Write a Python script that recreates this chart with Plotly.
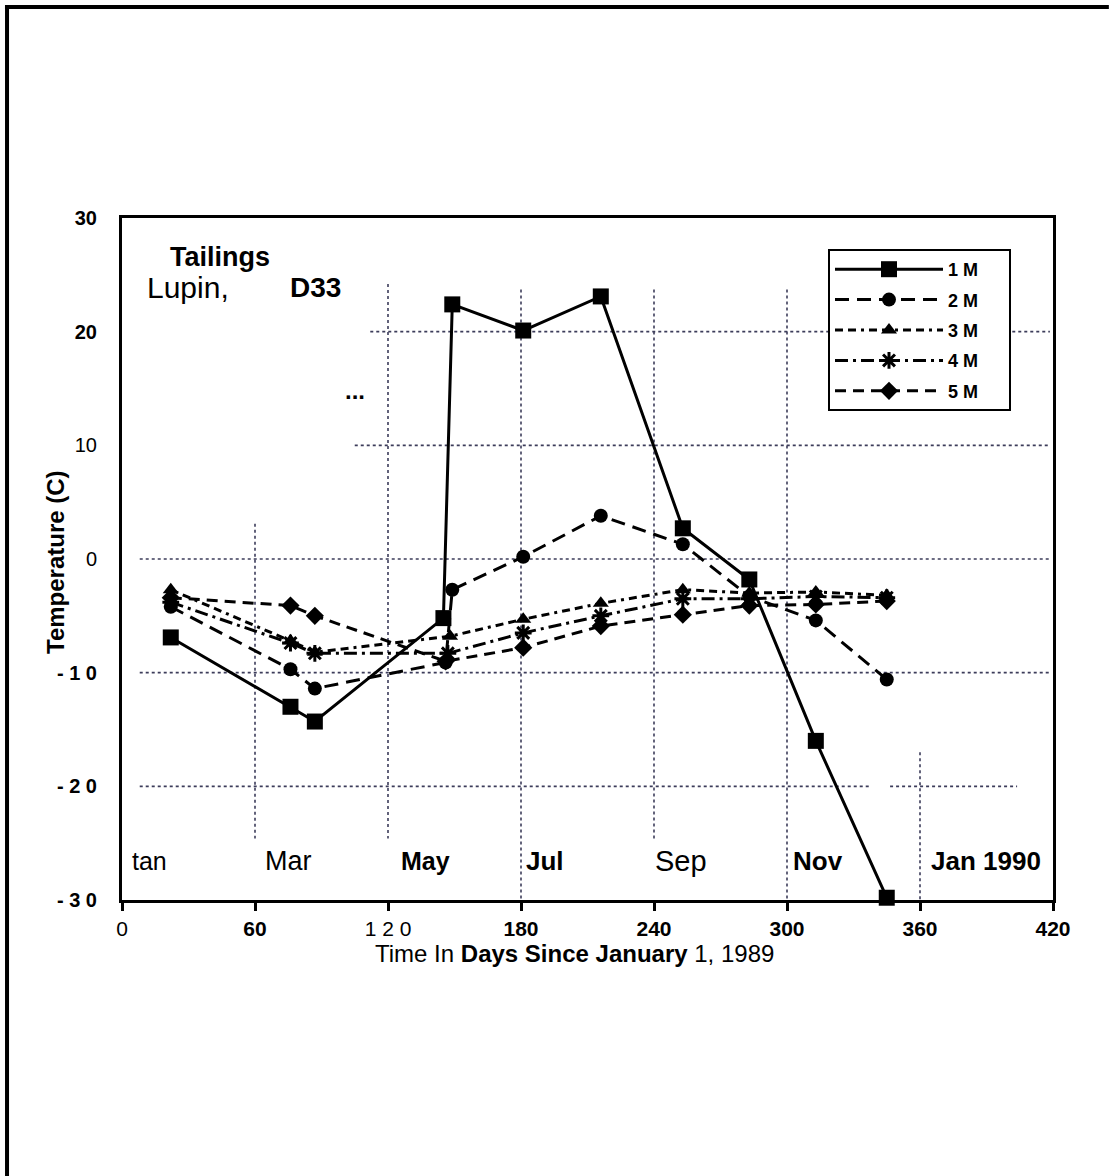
import plotly.graph_objects as go

# ---- data ----
series_names = ["1 M", "2 M", "3 M", "4 M", "5 M"]
days_1m = [22, 76, 87, 145, 149, 181, 216, 253, 283, 313, 345]
temp_1m = [-6.9, -13.0, -14.3, -5.2, 22.4, 20.1, 23.1, 2.7, -1.8, -16.0, -29.8]
days_2m = [22, 76, 87, 146, 149, 181, 216, 253, 283, 313, 345]
temp_2m = [-4.2, -9.7, -11.4, -9.1, -2.7, 0.2, 3.8, 1.3, -3.3, -5.4, -10.6]
days_3m = [22, 76, 87, 148, 181, 216, 253, 283, 313, 345]
temp_3m = [-2.7, -7.2, -8.2, -6.8, -5.3, -3.9, -2.7, -3.0, -2.9, -3.2]
days_4m = [22, 76, 87, 147, 181, 216, 253, 283, 313, 345]
temp_4m = [-3.8, -7.4, -8.3, -8.3, -6.5, -5.0, -3.5, -3.5, -3.3, -3.4]
days_5m = [22, 76, 87, 146, 181, 216, 253, 283, 313, 345]
temp_5m = [-3.4, -4.1, -5.0, -9.0, -7.8, -5.9, -4.9, -4.1, -4.0, -3.7]

x_tickvals = [0, 60, 120, 180, 240, 300, 360, 420]
x_ticktext = ["0", "<b>60</b>", "1 2 0", "<b>180</b>", "<b>240</b>", "<b>300</b>", "<b>360</b>", "<b>420</b>"]
y_tickvals = [30, 20, 10, 0, -10, -20, -30]
y_ticktext = ["<b>30</b>", "<b>20</b>", "10", "0", "<b>- 1 0</b>", "<b>- 2 0</b>", "<b>- 3 0</b>"]

month_labels = ["tan", "Mar", "<b>May</b>", "<b>Jul</b>", "Sep", "<b>Nov</b>", "<b>Jan 1990</b>"]
month_days = [12.6, 74.9, 136.7, 190.8, 252.2, 314, 389.8]
month_sizes = [25, 27, 25, 26, 29, 26, 26]

all_days = [days_1m, days_2m, days_3m, days_4m, days_5m]
all_temps = [temp_1m, temp_2m, temp_3m, temp_4m, temp_5m]

# ---- styles ----
symbols = ["square", "circle", "triangle-up", "asterisk-open", "diamond"]
sizes = [16, 14, 14, 14, 14]
dashes = ["solid", "14px,8px", "8px,5px,8px,5px,3px,5px", "13px,5px,3px,5px", "11px,7px"]

fig = go.Figure()
for i in range(5):
    fig.add_trace(go.Scatter(
        x=all_days[i], y=all_temps[i],
        name="<b>" + series_names[i] + "</b>&nbsp;&nbsp;&nbsp;&nbsp;&nbsp;",
        mode="lines+markers",
        line=dict(color="black", width=3, dash=dashes[i]),
        marker=dict(symbol=symbols[i], size=sizes[i], color="black",
                    line=dict(color="black", width=3 if i == 3 else 0)),
        cliponaxis=False, legendgroup=str(i),
    ))

# dotted grid segments (partial, as in the scanned reference)
grid_h = [(20, 112, 418.6), (10, 105, 418.6), (0, 8, 418.6), (-10, 8, 418.6), (-20, 8, 337.5), (-20, 346.5, 403.8)]
grid_v = [(60, 3.1, -24.6), (120, 24.2, -24.6), (180, 23.7, -30), (240, 23.7, -24.6), (300, 23.7, -30), (360, -17.0, -30)]
shapes = []
for yv, x0, x1 in grid_h:
    shapes.append(dict(type="line", xref="x", yref="y", x0=x0, x1=x1, y0=yv, y1=yv,
                       line=dict(color="#3c3c5a", width=1.6, dash="dot"), layer="below"))
for xv, y0, y1 in grid_v:
    shapes.append(dict(type="line", xref="x", yref="y", x0=xv, x1=xv, y0=y0, y1=y1,
                       line=dict(color="#3c3c5a", width=1.6, dash="dot"), layer="below"))
# outer page frame (left and top)
shapes.append(dict(type="line", xref="paper", yref="paper", x0=-0.1235, x1=-0.1235, y0=1.3094, y1=-0.41,
                   line=dict(color="black", width=4)))
shapes.append(dict(type="line", xref="paper", yref="paper", x0=-0.1257, x1=1.06, y0=1.3094, y1=1.3094,
                   line=dict(color="black", width=4)))

annotations = []
for lab, d, s in zip(month_labels, month_days, month_sizes):
    annotations.append(dict(x=d, y=-26.6, xref="x", yref="y", text=lab, showarrow=False,
                            font=dict(family="Liberation Sans, Arial", size=s, color="black"),
                            xanchor="center", yanchor="middle"))
annotations += [
    dict(x=(168 - 122) / 931, y=(900 - 257) / 682, xref="paper", yref="paper", text="<b>Tailings</b>",
         showarrow=False, xanchor="left", yanchor="middle", font=dict(family="Liberation Sans, Arial", size=27, color="black")),
    dict(x=(145 - 122) / 931, y=(900 - 287) / 682, xref="paper", yref="paper", text="Lupin,",
         showarrow=False, xanchor="left", yanchor="middle", font=dict(family="Liberation Sans, Arial", size=30, color="black")),
    dict(x=(288 - 122) / 931, y=(900 - 287) / 682, xref="paper", yref="paper", text="<b>D33</b>",
         showarrow=False, xanchor="left", yanchor="middle", font=dict(family="Liberation Sans, Arial", size=28, color="black")),
    dict(x=(355 - 122) / 931, y=(900 - 390) / 682, xref="paper", yref="paper", text="<b>...</b>",
         showarrow=False, xanchor="center", yanchor="middle", font=dict(family="Liberation Sans, Arial", size=24, color="black")),
    dict(x=(574 - 122) / 931, y=(900 - 953) / 682, xref="paper", yref="paper",
         text="Time In <b>Days Since January</b> 1, 1989",
         showarrow=False, xanchor="center", yanchor="middle", font=dict(family="Liberation Sans, Arial", size=24, color="black")),
    dict(x=(55 - 122) / 931, y=(900 - 562) / 682, xref="paper", yref="paper", text="<b>Temperature (C)</b>",
         textangle=-90, showarrow=False, xanchor="center", yanchor="middle",
         font=dict(family="Liberation Sans, Arial", size=24, color="black")),
]

fig.update_layout(
    width=1110, height=1176,
    margin=dict(l=122, r=57, t=218, b=276),
    paper_bgcolor="white", plot_bgcolor="white",
    font=dict(family="Liberation Sans, Arial", color="black"),
    shapes=shapes, annotations=annotations,
    showlegend=True,
    legend=dict(x=(828 - 122) / 931, y=(900 - 249) / 682, xanchor="left", yanchor="top",
                bordercolor="black", borderwidth=2, bgcolor="white",
                font=dict(family="Liberation Sans, Arial", size=18, color="black"),
                itemwidth=108, tracegroupgap=4, traceorder="grouped"),
    xaxis=dict(range=[0, 420], tickvals=x_tickvals, ticktext=x_ticktext, showgrid=False, zeroline=False,
               showline=True, linecolor="black", linewidth=3, mirror=True,
               ticks="outside", ticklen=8, tickwidth=3, tickcolor="black",
               tickfont=dict(family="Liberation Sans, Arial", size=21, color="black")),
    yaxis=dict(range=[-30, 30], tickvals=y_tickvals, ticktext=y_ticktext, showgrid=False, zeroline=False,
               showline=True, linecolor="black", linewidth=3, mirror=True,
               ticks="", ticklabelstandoff=18,
               tickfont=dict(family="Liberation Sans, Arial", size=20, color="black")),
)

fig.write_html("out.html")
